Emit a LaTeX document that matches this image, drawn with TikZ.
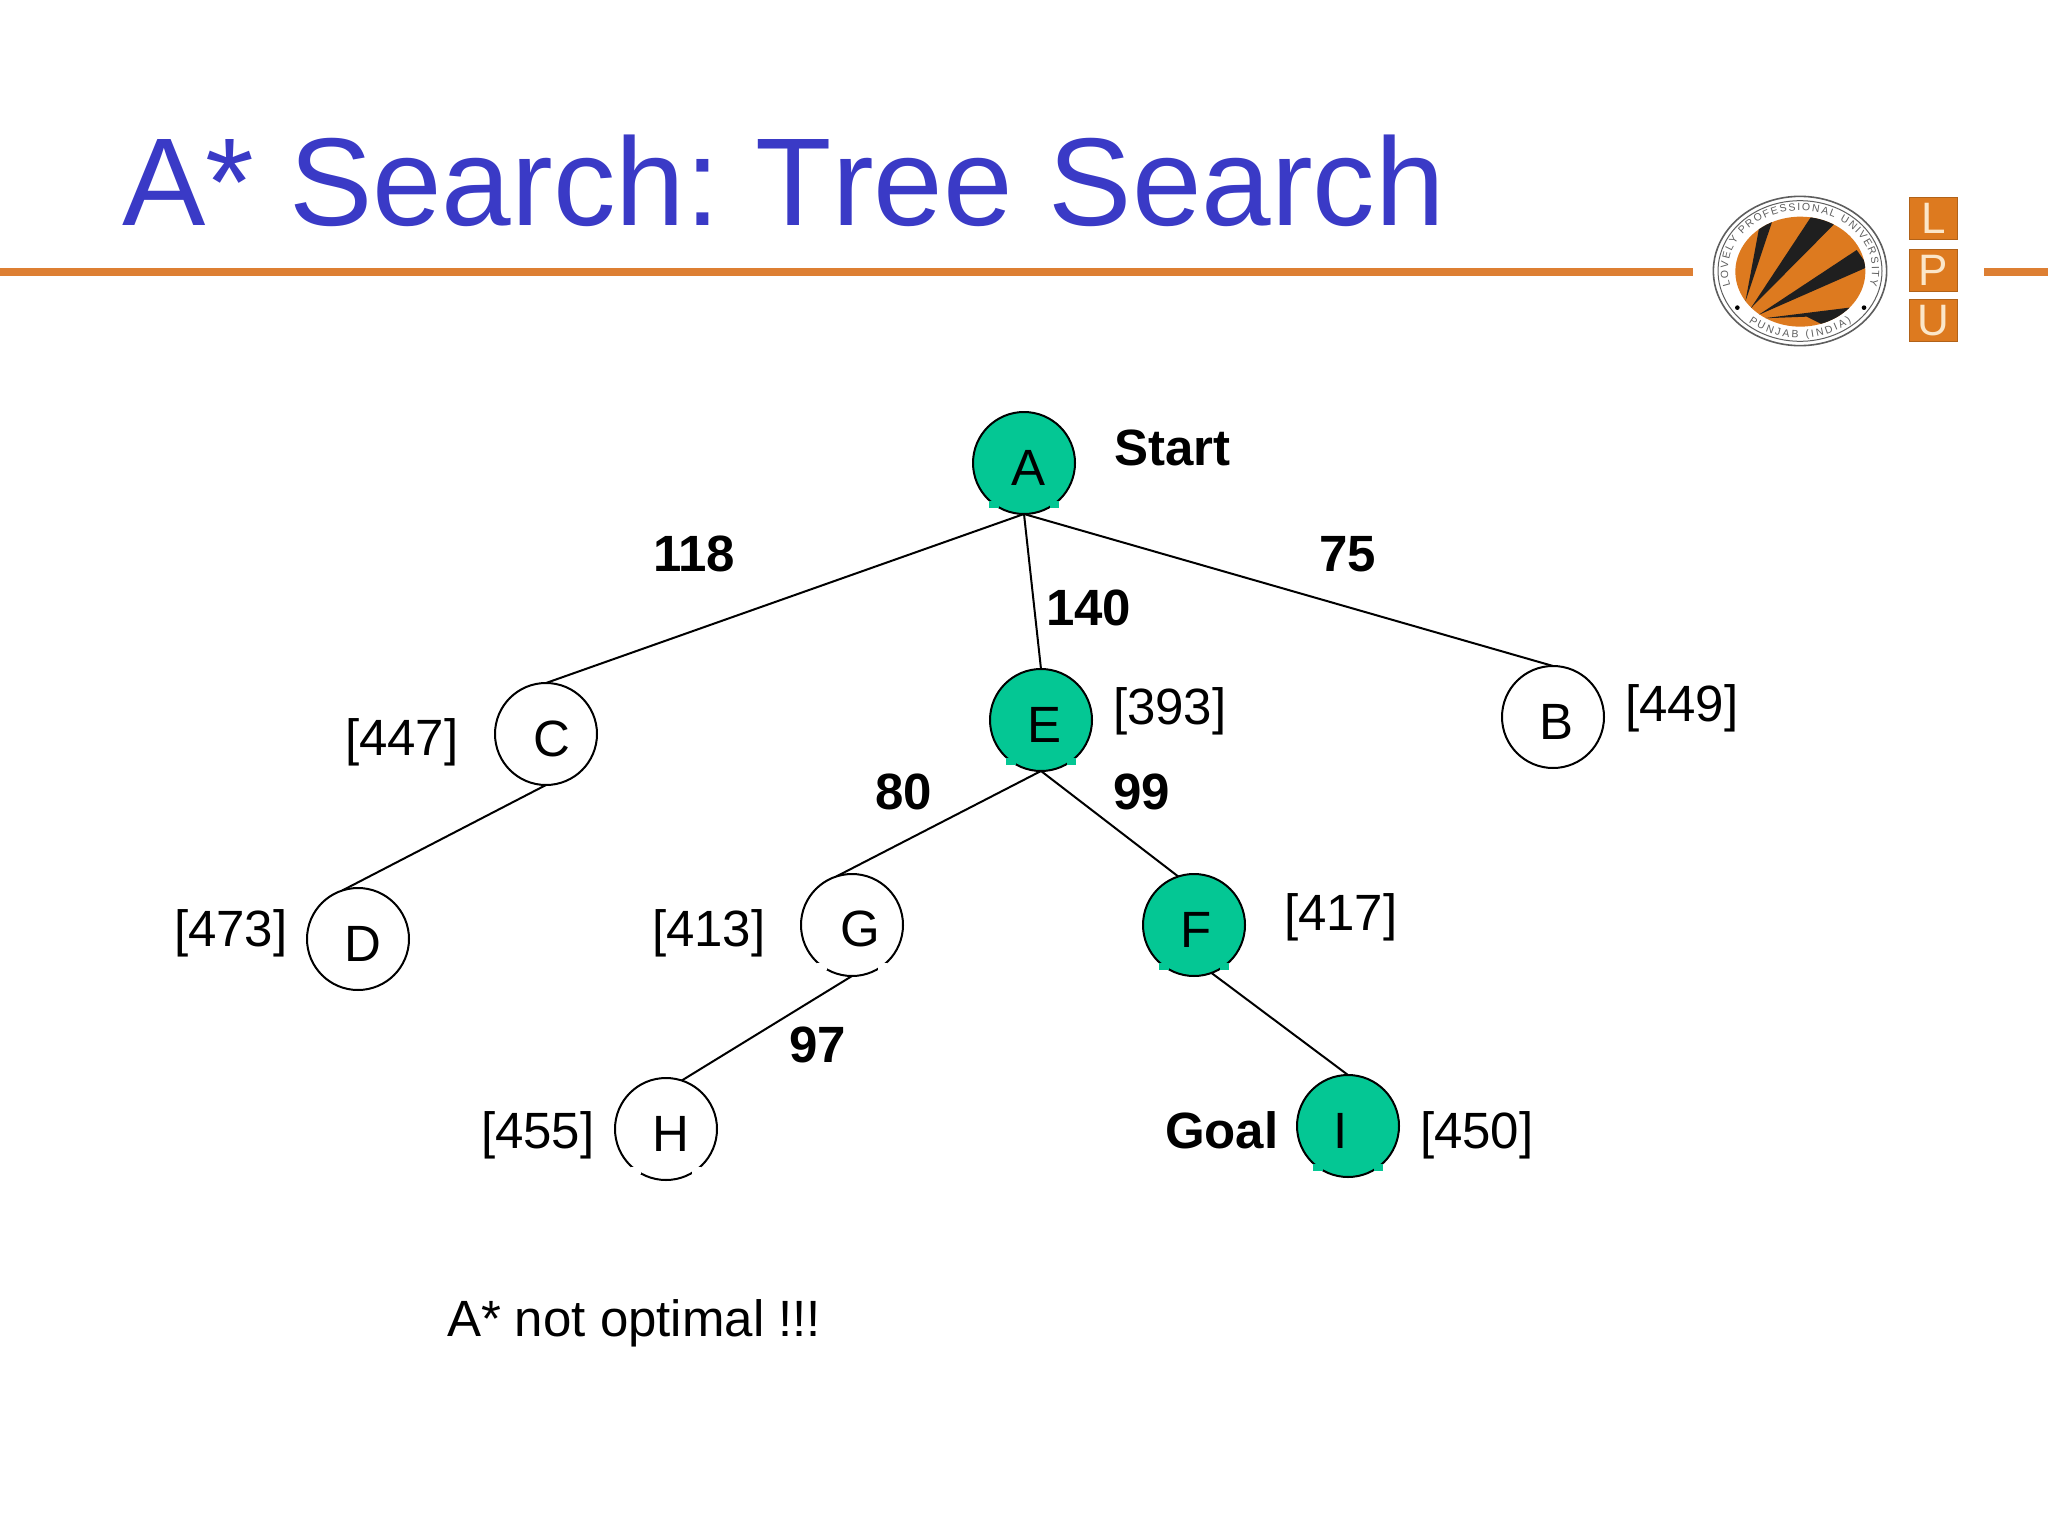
\documentclass[tikz,border=0pt]{standalone}
\usepackage{fontspec}
\setmainfont{Liberation Sans}
\newfontfamily\titlefont[Kerning=Off]{Liberation Sans}
\usetikzlibrary{decorations.text}
\definecolor{titleblue}{HTML}{3A3AC6}
\definecolor{rule}{HTML}{DD7F33}
\definecolor{vgreen}{HTML}{04C794}
\definecolor{lpuorange}{HTML}{DD7A1F}
\definecolor{lpucream}{HTML}{FBE6C8}
\definecolor{sealgrey}{HTML}{5E5E5E}
\newcommand{\vlab}[3]{\makebox[0pt][c]{\hspace*{#1pt}\smash{\raisebox{-#2pt}{#3}}}}
\newcommand{\gapmarks}[2]{%
  \fill[#2] ([shift={(-35,38)}]#1.center) rectangle ([shift={(-25,45)}]#1.center);
  \fill[#2] ([shift={(26,38)}]#1.center) rectangle ([shift={(35,45)}]#1.center);}
\tikzset{
  vertex/.style={circle,draw=black,line width=2pt,minimum size=102pt,inner sep=0pt,outer sep=0pt,font=\fontsize{51}{60}\selectfont},
  goalvertex/.style={vertex,fill=vgreen},
  edgeline/.style={draw=black,line width=2pt},
  heur/.style={anchor=base west,inner sep=0pt,outer sep=0pt,font=\fontsize{51}{60}\selectfont},
  cost/.style={heur,font=\fontsize{51}{60}\selectfont\bfseries},
  lpubox/.style={fill=lpuorange,draw=lpuorange!80!black,line width=.8pt,minimum width=48pt,minimum height=42pt,inner sep=0pt,text=lpucream,font=\fontsize{44}{50}\selectfont},
  ruleline/.style={draw=rule,line width=8pt}
}
\begin{document}
\begin{tikzpicture}[x=1pt,y=-1pt]
\useasboundingbox (0,0) rectangle (2048,1536);
\fill[white] (0,0) rectangle (2048,1536);
% title and rule
\node[heur,text=titleblue,font=\fontsize{125}{130}\selectfont\titlefont] (title) at (122,225) {A*\hspace{35pt}Search:\hspace{36pt}Tree\hspace{36pt}Search};
\coordinate (ruleAstart) at (0,272); \coordinate (ruleAend) at (1693,272);
\coordinate (ruleBstart) at (1984,272); \coordinate (ruleBend) at (2048,272);
\draw[ruleline] (ruleAstart) -- (ruleAend);
\draw[ruleline] (ruleBstart) -- (ruleBend);
% seal
\begin{scope}[shift={(1680,170)},x=.33333pt,y=-.33333pt]
  \draw[sealgrey,line width=1.6pt,fill=white] plot[domain=0:360,samples=90] ({360+260*cos(\x)},{303+224*sin(\x)});
  \draw[sealgrey,line width=1pt] plot[domain=0:360,samples=90] ({360+246*cos(\x)},{303+211*sin(\x)});
  \begin{scope}
    \clip plot[domain=0:360,samples=90] ({361+195*cos(\x)},{305+165*sin(\x)});
    \fill[lpuorange] (150,130) rectangle (570,480);
    \fill[black!88] (196,395) -- (238,170) -- (278,150) -- cycle;
    \fill[black!88] (212,415) -- (400,130) -- (465,160) -- cycle;
    \fill[black!88] (235,435) -- (530,240) -- (565,290) -- cycle;
    \fill[black!88] (250,445) -- (515,412) -- (440,470) -- (380,440) -- cycle;
  \end{scope}
  \fill[black] (172,413) circle[radius=7];
  \fill[black] (552,413) circle[radius=7];
  \path[decorate,decoration={text along path,text align={fit to path},
    text={|\fontsize{10.5}{11}\selectfont\color{sealgrey}|LOVELY   PROFESSIONAL   UNIVERSITY}}]
    plot[domain=165:375,samples=60] ({360+216*cos(\x)},{300+178*sin(\x)});
  \path[decorate,decoration={text along path,text align={fit to path},
    text={|\fontsize{10.5}{11}\selectfont\color{sealgrey}|PUNJAB (INDIA)}}]
    plot[domain=130:50,samples=40] ({360+240*cos(\x)},{298+206*sin(\x)});
  \node[lpubox] (lpuL) at (760,146) {\raisebox{-.5pt}{L}};
  \node[lpubox] (lpuP) at (760,300) {P};
  \node[lpubox] (lpuU) at (760,452) {U};
\end{scope}
% vertices
\node[goalvertex] (A) at (1024,463) {\vlab{8}{22}{A}};
\node[goalvertex] (E) at (1041,720) {\vlab{6}{22}{E}};
\node[vertex] (C) at (546,734) {\vlab{12}{22}{C}};
\node[vertex] (B) at (1553,717) {\vlab{6}{22}{B}};
\node[vertex] (D) at (358,939) {\vlab{10}{22}{D}};
\node[vertex] (G) at (852,925) {\vlab{16}{21}{G}};
\node[goalvertex] (F) at (1194,925) {\vlab{4}{22}{F}};
\node[vertex] (H) at (666,1129) {\vlab{10}{22}{H}};
\node[goalvertex] (I) at (1348,1126) {\vlab{-14}{22}{I}};
\gapmarks{A}{vgreen}\gapmarks{E}{vgreen}\gapmarks{F}{vgreen}\gapmarks{I}{vgreen}
\gapmarks{G}{white}\gapmarks{H}{white}
% connectors
\draw[edgeline] (A.south) -- (C.north);
\draw[edgeline] (A.south) -- (E.north);
\draw[edgeline] (A.south) -- (B.north);
\draw[edgeline] (C.south) -- (D.108);
\draw[edgeline] (E.south) -- (G.108);
\draw[edgeline] (E.south) -- (F.108);
\draw[edgeline] (G.south) -- (H.72);
\draw[edgeline] (F.-70) -- (I.north);
% costs
\node[cost] (lstart) at (1114,465) {Start};
\node[cost] (l118) at (653,571) {118};
\node[cost] (l75) at (1319,571) {75};
\node[cost] (l140) at (1046,625) {140};
\node[cost] (l80) at (875,809) {80};
\node[cost] (l99) at (1113,809) {99};
\node[cost] (l97) at (789,1062) {97};
\node[cost] (lgoal) at (1165,1148) {Goal};
% heuristics
\node[heur] (h447) at (345,755) {[447]};
\node[heur] (h393) at (1113,724) {[393]};
\node[heur] (h449) at (1625,721) {[449]};
\node[heur] (h473) at (174,946) {[473]};
\node[heur] (h413) at (652,946) {[413]};
\node[heur] (h417) at (1284,930) {[417]};
\node[heur] (h455) at (481,1148) {[455]};
\node[heur] (h450) at (1420,1148) {[450]};
\node[heur] (note) at (447,1336) {A* not optimal !!!};
\end{tikzpicture}
\end{document}
